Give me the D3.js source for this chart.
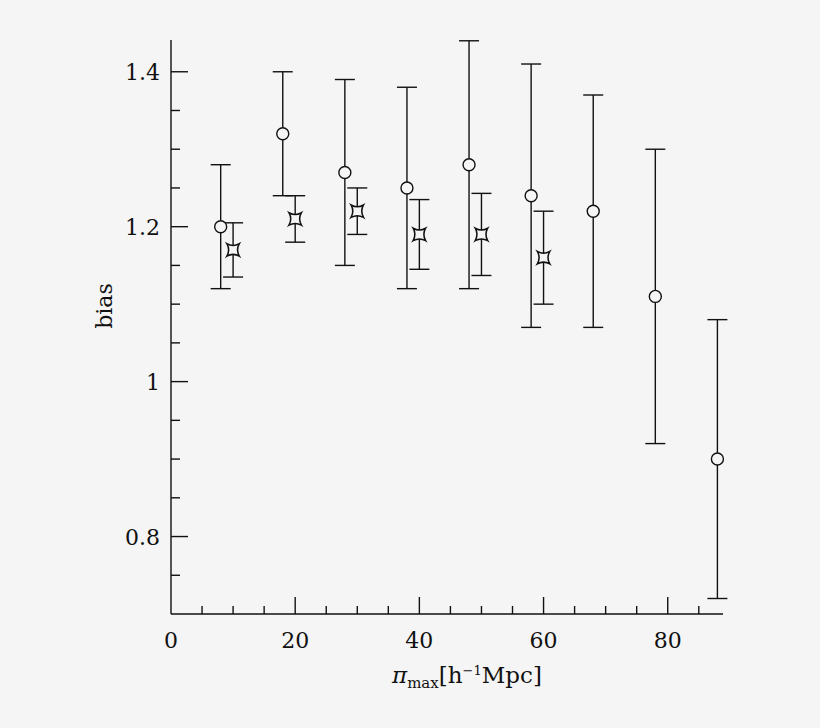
<!DOCTYPE html><html><head><script src="https://cdn.jsdelivr.net/npm/d3@7"></script>
<style>body{margin:0;background:#f5f5f5}</style></head><body><svg id="c" width="820" height="728"></svg>
<script>
const circX=[8,18,28,38,48,58,68,78,88];
const circY=[1.20,1.32,1.27,1.25,1.28,1.24,1.22,1.11,0.90];
const circLo=[1.12,1.24,1.15,1.12,1.12,1.07,1.07,0.92,0.72];
const circHi=[1.28,1.40,1.39,1.38,1.44,1.41,1.37,1.30,1.08];
const starX=[10,20,30,40,50,60];
const starY=[1.17,1.21,1.22,1.19,1.19,1.16];
const starLo=[1.135,1.18,1.19,1.145,1.137,1.10];
const starHi=[1.205,1.24,1.25,1.235,1.243,1.22];
const xTicks=[0,20,40,60,80];
const yTicks=[0.8,1,1.2,1.4];

const svg=d3.select("#c");
svg.append("rect").attr("width",820).attr("height",728).attr("fill","#f5f5f5");
const x=d3.scaleLinear().domain([0,88.9]).range([171,723]);
const y=d3.scaleLinear().domain([0.7,1.441]).range([614,40]);
const font="'DejaVu Serif', serif";
const g=svg.append("g").attr("stroke","#111").attr("stroke-width",1.4).attr("fill","none");
g.append("line").attr("x1",x(0)).attr("x2",x(0)).attr("y1",y(1.441)).attr("y2",y(0.7));
g.append("line").attr("x1",x(0)).attr("x2",x(88.9)).attr("y1",y(0.7)).attr("y2",y(0.7));
d3.range(5,89,5).forEach(v=>{const L=v%20===0?17:8;g.append("line").attr("x1",x(v)).attr("x2",x(v)).attr("y1",y(0.7)).attr("y2",y(0.7)-L);});
d3.range(15,29).map(i=>i*0.05).forEach(v=>{const maj=Math.abs(v*5-Math.round(v*5))<1e-6;const L=maj?17:9;g.append("line").attr("x1",x(0)).attr("x2",x(0)+L).attr("y1",y(v)).attr("y2",y(v));});
svg.selectAll(".xt").data(xTicks).enter().append("text").attr("x",d=>x(d)).attr("y",648).attr("text-anchor","middle").attr("font-family",font).attr("font-size",22).attr("fill","#111").text(d=>d);
svg.selectAll(".yt").data(yTicks).enter().append("text").attr("x",160).attr("y",d=>y(d)+8).attr("text-anchor","end").attr("font-family",font).attr("font-size",22).attr("fill","#111").text(d=>d);
const xl=svg.append("text").attr("x",392).attr("y",683).attr("font-family",font).attr("font-size",23).attr("fill","#111");
xl.append("tspan").attr("font-style","italic").text("π");xl.append("tspan").attr("font-size",15).attr("dy",5).text("max");xl.append("tspan").attr("dy",-5).text("[h");xl.append("tspan").attr("font-size",13).attr("dy",-8).text("−1");xl.append("tspan").attr("dy",8).text("Mpc]");
svg.append("text").attr("transform","translate(112,306) rotate(-90)").attr("text-anchor","middle").attr("font-family",font).attr("font-size",22).attr("fill","#111").text("bias");
function err(X,Lo,Hi){X.forEach((v,i)=>{g.append("line").attr("x1",x(v)).attr("x2",x(v)).attr("y1",y(Lo[i])).attr("y2",y(Hi[i]));[Lo[i],Hi[i]].forEach(e=>g.append("line").attr("x1",x(v)-10).attr("x2",x(v)+10).attr("y1",y(e)).attr("y2",y(e)));});}
err(circX,circLo,circHi);err(starX,starLo,starHi);
circX.forEach((v,i)=>g.append("circle").attr("cx",x(v)).attr("cy",y(circY[i])).attr("r",6).attr("fill","#f5f5f5"));
const s=8,k=3.5;
const starPath=`M0,${-s} Q${k/2},${-k/2} ${s},0 Q${k/2},${k/2} 0,${s} Q${-k/2},${k/2} ${-s},0 Q${-k/2},${-k/2} 0,${-s}Z`;
starX.forEach((v,i)=>g.append("path").attr("d",starPath).attr("transform",`translate(${x(v)},${y(starY[i])}) rotate(45) scale(1.1)`).attr("fill","#f5f5f5"));
</script></body></html>
